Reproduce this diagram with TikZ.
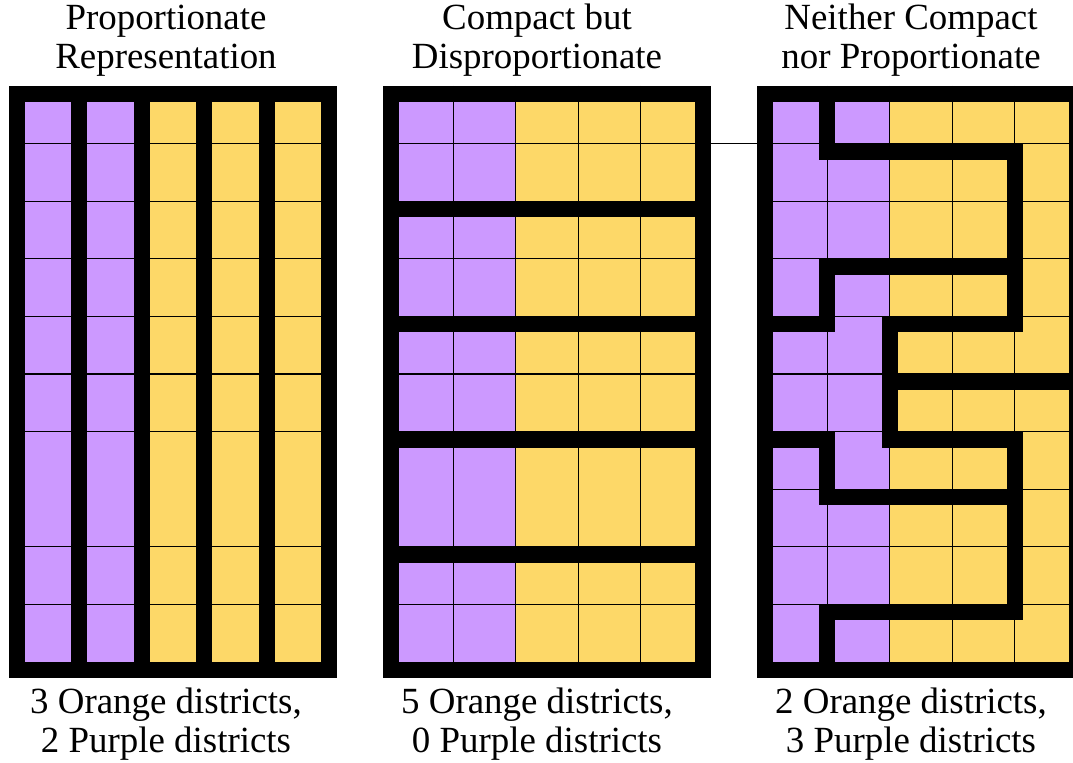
\documentclass[tikz,border=0pt]{standalone}
\usepackage{fontspec}
\setmainfont{Liberation Serif}
\definecolor{purplecell}{RGB}{204,153,255}
\definecolor{yellowcell}{RGB}{253,216,104}
\tikzset{
    panel/.style={shift={(#1, 86)}, x=1.248cm, y=-1.152cm},
    thin grid/.style={line width=0.024cm},
    boundary/.style={line width=0.32cm, line cap=rect, yshift=-0.16cm},
    caption/.style={align=center, anchor=base, font=\fontsize{21}{22.4}\selectfont}
}
\begin{document}
\begin{tikzpicture}[x=0.02cm, y=-0.02cm]
    \clip (0, 0) rectangle (1073, 763);

    % proportionate: five vertical districts
    \begin{scope}[panel=17]
        \fill [purplecell] (0, 0) rectangle (2, 10);
        \fill [yellowcell] (2, 0) rectangle (5, 10);
        \foreach \r in {1,...,6,8,9}
            \draw [thin grid] (0, \r) -- (5, \r);
        \draw [boundary] (0, 0) rectangle (5, 10);
        \foreach \c in {1,...,4}
            \draw [boundary] (\c, 0) -- (\c, 10);
    \end{scope}

    % compact: five horizontal districts
    \begin{scope}[panel=391]
        \fill [purplecell] (0, 0) rectangle (2, 10);
        \fill [yellowcell] (2, 0) rectangle (5, 10);
        \foreach \r in {1,...,6,8,9}
            \draw [thin grid] (0, \r) -- (5, \r);
        \foreach \c in {1,...,4}
            \draw [thin grid] (\c, 0) -- (\c, 10);
        \coordinate (midR) at (5, 1);
        \draw [boundary] (0, 0) rectangle (5, 10);
        \foreach \r in {2,4,6,8}
            \draw [boundary] (0, \r) -- (5, \r);
    \end{scope}

    % neither: interlocking districts
    \begin{scope}[panel=765]
        \fill [purplecell] (0, 0) rectangle (2, 10);
        \fill [yellowcell] (2, 0) rectangle (5, 10);
        \foreach \r in {1,...,9}
            \draw [thin grid] (0, \r) -- (5, \r);
        \foreach \c in {1,...,4}
            \draw [thin grid] (\c, 0) -- (\c, 10);
        \coordinate (rightL) at (0, 1);
        \draw [boundary] (0, 0) rectangle (5, 10);
        \draw [boundary] (1, 0) -- (1, 1) -- (4, 1) -- (4, 4) -- (2, 4) -- (2, 6)
            -- (4, 6) -- (4, 9) -- (1, 9) -- (1, 10);
        \draw [boundary] (4, 3) -- (1, 3) -- (1, 4) -- (0, 4);
        \draw [boundary] (2, 5) -- (5, 5);
        \draw [boundary] (0, 6) -- (1, 6) -- (1, 7) -- (4, 7);
    \end{scope}

    \draw [thin grid] (midR) -- (rightL);

    \node [caption] (titleA) at (166, 68.5) {Proportionate\\Representation};
    \node [caption] (titleB) at (537, 68.5) {Compact but\\Disproportionate};
    \node [caption] (titleC) at (911, 68.5) {Neither Compact\\nor Proportionate};

    \node [caption] (countA) at (166, 752.5) {3 Orange districts,\\2 Purple districts};
    \node [caption] (countB) at (537, 752.5) {5 Orange districts,\\0 Purple districts};
    \node [caption] (countC) at (911, 752.5) {2 Orange districts,\\3 Purple districts};
\end{tikzpicture}
\end{document}
